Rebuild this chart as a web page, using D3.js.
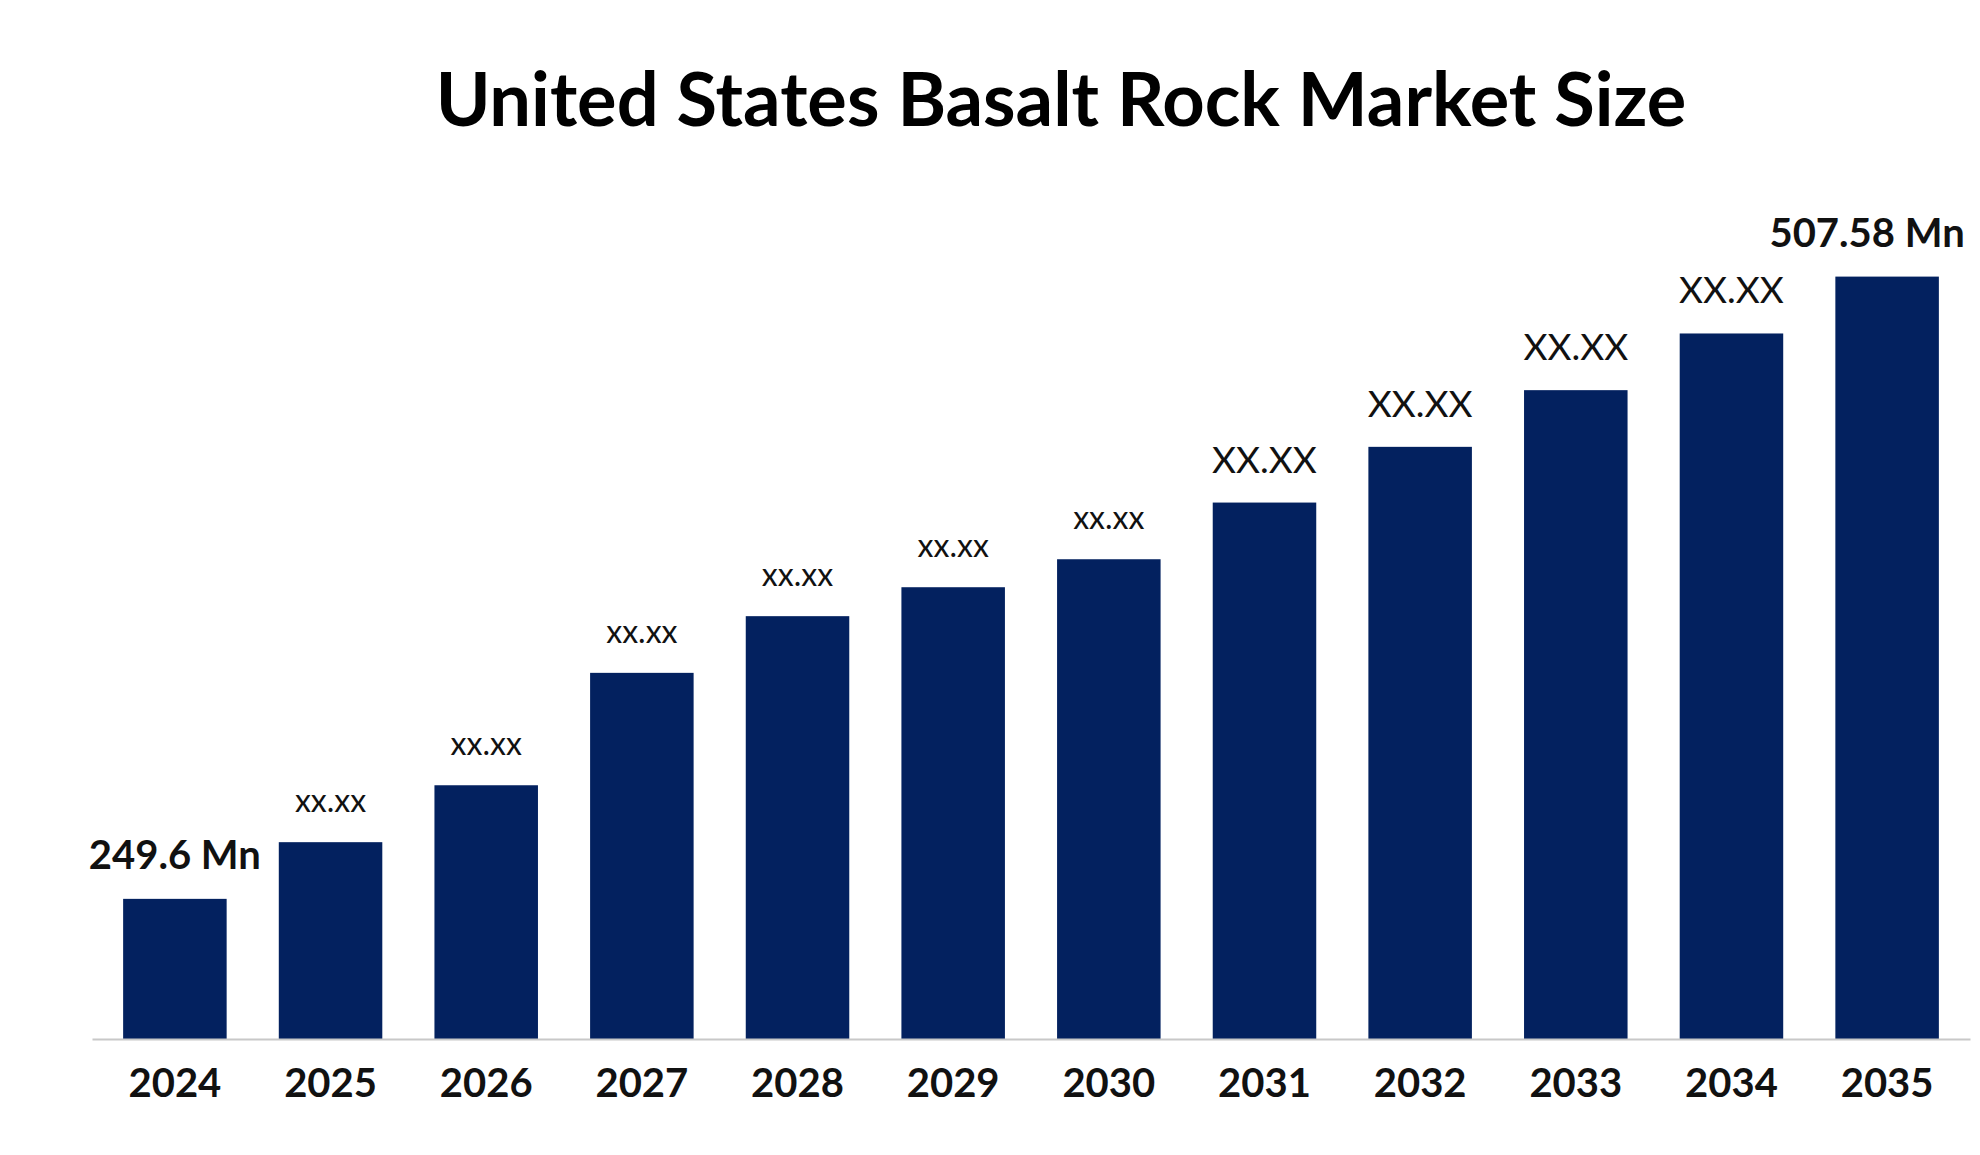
<!DOCTYPE html>
<html><head><meta charset="utf-8">
<script src="https://cdn.jsdelivr.net/npm/d3@7"></script>
<style>body{margin:0;background:#fff}</style></head>
<body><svg id="c" width="1980" height="1155"></svg>
<script>
const years = ["2024","2025","2026","2027","2028","2029","2030","2031","2032","2033","2034","2035"];
const values = [249.6,273.1,296.7,343.3,366.8,378.8,390.4,413.9,437.0,460.5,484.0,507.58];
const labels = ["249.6 Mn","xx.xx","xx.xx","xx.xx","xx.xx","xx.xx","xx.xx","XX.XX","XX.XX","XX.XX","XX.XX","507.58 Mn"];
const svg = d3.select("#c");
const font = "Lato, 'Open Sans', sans-serif";
const x = d3.scaleBand().domain(years).range([92, 1970]).paddingInner(0.335).paddingOuter(0.2);
const y = d3.scaleLinear().domain([191.5, 507.58]).range([1039, 276.6]);
svg.append("text").attr("x", 1061).attr("y", 126).attr("text-anchor","middle")
  .attr("font-family", font).attr("font-weight","bold").attr("font-size", 74).attr("fill","#000")
  .text("United States Basalt Rock Market Size");
svg.selectAll("rect.b").data(years).join("rect").attr("class","b")
  .attr("x", d=>x(d)).attr("width", x.bandwidth())
  .attr("y", (d,i)=>y(values[i])).attr("height", (d,i)=>y.range()[0]-y(values[i]))
  .attr("fill","#03215f");
const ax = svg.append("g").attr("transform","translate(0,1039)").call(d3.axisBottom(x).tickSize(0).tickPadding(30));
ax.select(".domain").attr("stroke","#c8c8c8").attr("stroke-width",2);
ax.selectAll("text").attr("font-family",font).attr("font-weight","bold").attr("font-size",40).attr("fill","#111");
svg.selectAll("text.l").data(labels).join("text").attr("class","l")
  .attr("x",(d,i)=> i===0 ? x(years[i])+x.bandwidth()/2 : x(years[i])+x.bandwidth()/2 - (i===11?20:0))
  .attr("y",(d,i)=> y(values[i]) - 30)
  .attr("text-anchor","middle").attr("font-family",font)
  .attr("font-weight",(d,i)=> (i===0||i===11)?"bold":"normal")
  .attr("font-size",(d,i)=> (i===0||i===11)?40:(i>=7?37:32))
  .attr("fill","#111").text(d=>d);
</script></body></html>
